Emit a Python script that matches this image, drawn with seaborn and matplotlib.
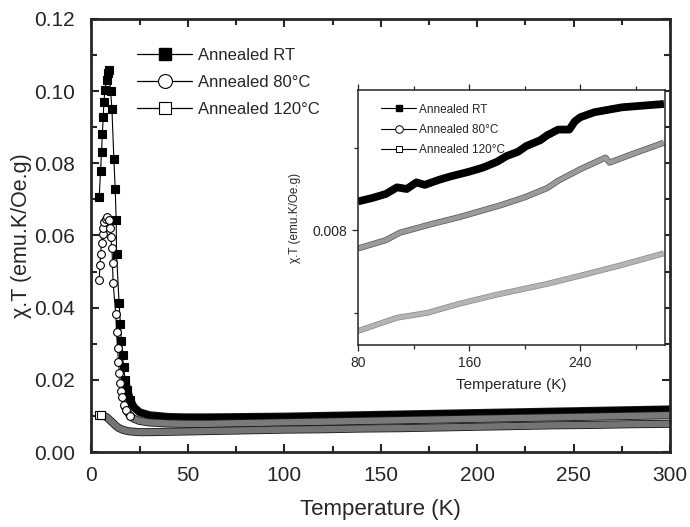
import pandas as pd
import seaborn as sns
import matplotlib.pyplot as plt
import matplotlib.patheffects as pe
from matplotlib.lines import Line2D
from matplotlib.ticker import MultipleLocator

# main panel: chi.T vs temperature (K)
temp_rt = [4.0, 4.7, 5.2, 5.6, 6.1, 6.4, 7.0, 7.8, 8.5, 9.0, 9.9, 10.6, 11.6, 12.3, 12.8, 13.0,
           14.3, 15.0, 15.5, 16.1, 16.6, 17.5, 18.5, 20, 22, 25, 30, 40, 50, 60,
           80, 100, 120, 140, 160, 180, 200, 220, 240, 260, 280, 300]
chi_rt = [0.0707, 0.0779, 0.0831, 0.0881, 0.0928, 0.0970, 0.1003, 0.1030, 0.1049, 0.1058, 0.1001,
          0.0950, 0.0812, 0.0729, 0.0643, 0.0549, 0.0412, 0.0355, 0.0307, 0.0270, 0.0236, 0.0200,
          0.0172, 0.0145, 0.0124, 0.0110, 0.0102, 0.0097, 0.0096, 0.0096,
          0.0097, 0.0098, 0.0100, 0.0102, 0.0104, 0.0106, 0.0108, 0.0110, 0.0112, 0.0114, 0.0116, 0.0118]

temp_80 = [4.0, 4.4, 4.7, 5.2, 5.8, 6.1, 6.6, 7.5, 8.1, 9.0, 9.5, 9.9, 10.6, 10.9, 11.2, 12.6,
           13.0, 13.5, 14.0, 14.5, 15.0, 15.5, 16.0, 17.0, 18.0, 20, 22, 25, 30, 40, 50, 60,
           80, 100, 120, 140, 160, 180, 200, 220, 240, 260, 280, 300]
chi_80 = [0.0478, 0.0518, 0.0548, 0.0578, 0.0604, 0.0622, 0.0638, 0.0647, 0.0652, 0.0643, 0.0622,
          0.0595, 0.0564, 0.0524, 0.0469, 0.0382, 0.0333, 0.0287, 0.0250, 0.0219, 0.0192, 0.0170,
          0.0152, 0.0130, 0.0116, 0.0100, 0.0092, 0.0086, 0.0082, 0.0079, 0.0078, 0.0078,
          0.0080, 0.0082, 0.0084, 0.0086, 0.0088, 0.0090, 0.0092, 0.0094, 0.0096, 0.0098, 0.0100, 0.0102]

temp_120 = [4.0, 5.0, 6.0, 7.0, 8.0, 9.0, 10.0, 11.0, 12.0, 13.0, 14.0, 16.0, 18.0, 20, 25, 30,
            40, 50, 60, 80, 100, 120, 140, 160, 180, 200, 220, 240, 260, 280, 300]
chi_120 = [0.0102, 0.0102, 0.0101, 0.0099, 0.0096, 0.0091, 0.0086, 0.0081, 0.0076, 0.0071, 0.0067,
           0.0062, 0.0059, 0.0057, 0.0055, 0.0055, 0.0056, 0.0057, 0.0058,
           0.0060, 0.0062, 0.0063, 0.0065, 0.0066, 0.0068, 0.0070, 0.0072, 0.0074, 0.0075, 0.0077, 0.0078]

# inset: 80-300 K zoom
in_temp_rt = [80, 90, 100, 108, 115, 122, 128, 138, 146, 160, 170, 180, 187, 195, 201, 211, 216,
              224, 232, 236, 240, 250, 260, 270, 285, 300]
in_chi_rt = [0.00835, 0.00839, 0.00844, 0.00852, 0.00850, 0.00858, 0.00855, 0.00861, 0.00865,
             0.00871, 0.00876, 0.00883, 0.00890, 0.00895, 0.00902, 0.00909, 0.00915, 0.00922,
             0.00922, 0.00932, 0.00937, 0.00943, 0.00946, 0.00949, 0.00951, 0.00953]
in_temp_80 = [80, 100, 110, 134, 153, 182, 200, 216, 224, 240, 258, 261, 280, 300]
in_chi_80 = [0.00778, 0.00788, 0.00797, 0.00808, 0.00816, 0.00830, 0.00840, 0.00851, 0.00860,
             0.00874, 0.00888, 0.00882, 0.00894, 0.00906]
in_temp_120 = [80, 108, 130, 153, 180, 216, 240, 270, 300]
in_chi_120 = [0.00678, 0.00694, 0.00700, 0.00711, 0.00722, 0.00735, 0.00745, 0.00758, 0.00772]

labels = ["Annealed RT", "Annealed 80°C", "Annealed 120°C"]

sns.set_style("ticks")
plt.rcParams["font.family"] = ["Liberation Sans", "DejaVu Sans"]

fig = plt.figure(figsize=(6.9, 5.27), dpi=100)
ax = fig.add_axes([0.1326, 0.1423, 0.8384, 0.8217])

main = [
    (pd.DataFrame({"T": temp_rt, "chi": chi_rt}), "s", "black", "black", 17, 20),
    (pd.DataFrame({"T": temp_80, "chi": chi_80}), "o", "white", "#7a7a7a", 17, 20),
    (pd.DataFrame({"T": temp_120, "chi": chi_120}), "s", "white", "#747474", 5, 5),
]
for df, mk, face, band, t_band, t_mark in main:
    b = df[df["T"] >= t_band]
    sns.lineplot(data=b, x="T", y="chi", ax=ax, color=band, linewidth=4.6, sort=False,
                 estimator=None, legend=False, solid_capstyle="butt",
                 path_effects=[pe.Stroke(linewidth=5.8, foreground="#1a1a1a"), pe.Normal()])
    m = df[df["T"] <= t_mark]
    sns.lineplot(data=m, x="T", y="chi", ax=ax, color="black", linewidth=0.8, sort=False,
                 estimator=None, legend=False, marker=mk, markersize=5.6,
                 markerfacecolor=face, markeredgecolor="black", markeredgewidth=0.8)

ax.set_xlim(0, 300)
ax.set_ylim(0, 0.12)
ax.xaxis.set_major_locator(MultipleLocator(50))
ax.xaxis.set_minor_locator(MultipleLocator(25))
ax.yaxis.set_major_locator(MultipleLocator(0.02))
ax.yaxis.set_minor_locator(MultipleLocator(0.01))
ax.yaxis.set_major_formatter(plt.FormatStrFormatter("%.2f"))
ax.tick_params(which="both", direction="in", top=True, right=True, width=1.5, labelsize=15)
ax.tick_params(axis="y", pad=12)
ax.tick_params(axis="x", pad=10)
ax.tick_params(which="major", length=6)
ax.tick_params(which="minor", length=4)
for s in ax.spines.values():
    s.set_linewidth(2.0)
ax.set_xlabel("Temperature (K)", fontsize=16, labelpad=10)
ax.set_ylabel("χ.T (emu.K/Oe.g)", fontsize=15.5, labelpad=1)

handles = [
    Line2D([0], [0], color="black", lw=0.9, marker="s", markersize=9, mfc="black", mec="black"),
    Line2D([0], [0], color="black", lw=0.9, marker="o", markersize=10, mfc="white", mec="black", mew=0.8),
    Line2D([0], [0], color="black", lw=0.9, marker="s", markersize=9, mfc="white", mec="black", mew=0.8),
]
ax.legend(handles, labels, loc="upper left", bbox_to_anchor=(0.065, 0.953), frameon=False,
          fontsize=12, handlelength=3.3, handletextpad=0.35, labelspacing=0.72, borderpad=0)

# inset
axi = fig.add_axes([0.519, 0.3454, 0.445, 0.4839])
inset = [
    (pd.DataFrame({"T": in_temp_rt, "chi": in_chi_rt}), "black", "black", 4.6),
    (pd.DataFrame({"T": in_temp_80, "chi": in_chi_80}), "#9a9a9a", "#555555", 3.4),
    (pd.DataFrame({"T": in_temp_120, "chi": in_chi_120}), "#b4b4b4", "#8a8a8a", 3.2),
]
for df, col, edge, lw in inset:
    sns.lineplot(data=df, x="T", y="chi", ax=axi, color=col, linewidth=lw, sort=False,
                 estimator=None, legend=False, solid_capstyle="butt",
                 path_effects=[pe.Stroke(linewidth=lw + 1.0, foreground=edge), pe.Normal()])

axi.set_xlim(80, 301)
axi.set_ylim(0.00661, 0.0097)
axi.xaxis.set_major_locator(MultipleLocator(80))
axi.xaxis.set_minor_locator(MultipleLocator(40))
axi.yaxis.set_major_locator(MultipleLocator(0.002))
axi.yaxis.set_minor_locator(MultipleLocator(0.001))
axi.yaxis.set_major_formatter(plt.FormatStrFormatter("%.3f"))
axi.tick_params(which="both", direction="out", top=True, width=0.9, labelsize=10, pad=4)
axi.tick_params(which="major", length=4)
axi.tick_params(which="minor", length=3)
for s in axi.spines.values():
    s.set_linewidth(1.1)
axi.set_xlabel("Temperature (K)", fontsize=11, labelpad=6)
axi.set_ylabel("χ.T (emu.K/Oe.g)", fontsize=8.5, labelpad=8)

in_handles = [
    Line2D([0], [0], color="black", lw=0.8, marker="s", markersize=5, mfc="black", mec="black"),
    Line2D([0], [0], color="black", lw=0.8, marker="o", markersize=5.5, mfc="white", mec="black", mew=0.7),
    Line2D([0], [0], color="black", lw=0.8, marker="s", markersize=5, mfc="white", mec="black", mew=0.7),
]
axi.legend(in_handles, labels, loc="upper left", bbox_to_anchor=(0.055, 0.97), frameon=False,
           fontsize=8.5, handlelength=3.0, handletextpad=0.25, labelspacing=0.7, borderpad=0)

fig.savefig("out.png", dpi=100)
